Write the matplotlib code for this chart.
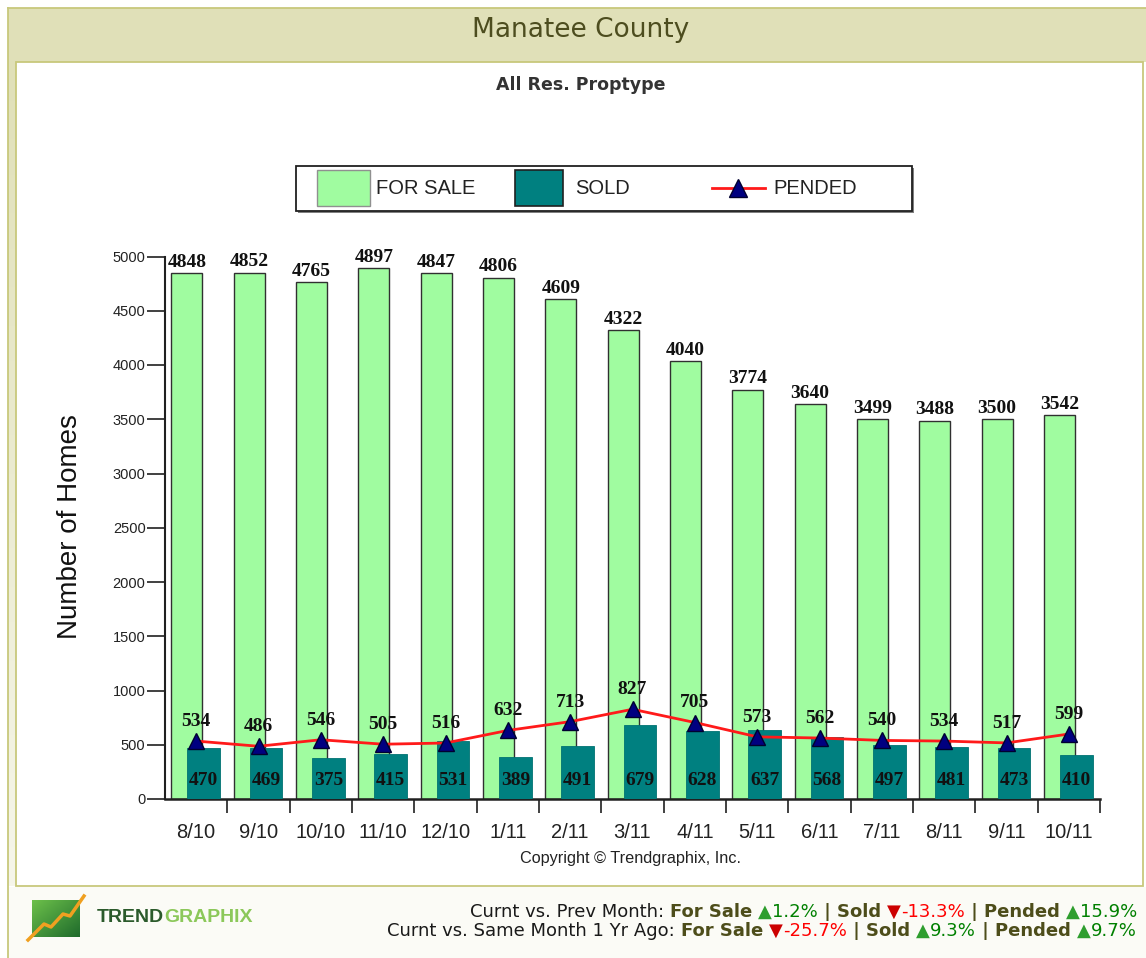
import matplotlib
matplotlib.use("Agg")
import matplotlib.pyplot as plt
import numpy as np
from matplotlib.patches import Rectangle
from matplotlib.lines import Line2D
from matplotlib.ticker import FixedLocator


months = ["8/10", "9/10", "10/10", "11/10", "12/10", "1/11", "2/11", "3/11",
          "4/11", "5/11", "6/11", "7/11", "8/11", "9/11", "10/11"]
for_sale = [4848, 4852, 4765, 4897, 4847, 4806, 4609, 4322, 4040, 3774, 3640, 3499, 3488, 3500, 3542]
sold = [470, 469, 375, 415, 531, 389, 491, 679, 628, 637, 568, 497, 481, 473, 410]
pended = [534, 486, 546, 505, 516, 632, 713, 827, 705, 573, 562, 540, 534, 517, 599]
y_ticks = [0, 500, 1000, 1500, 2000, 2500, 3000, 3500, 4000, 4500, 5000]

footer_prev = [("Curnt vs. Prev Month: ", "txt"), ("For Sale ", "key"), ("\u25b2", "up"), ("1.2%", "pos"),
               (" | ", "key"), ("Sold ", "key"), ("\u25bc", "down"), ("-13.3%", "neg"),
               (" | ", "key"), ("Pended ", "key"), ("\u25b2", "up"), ("15.9%", "pos")]
footer_year = [("Curnt vs. Same Month 1 Yr Ago: ", "txt"), ("For Sale ", "key"), ("\u25bc", "down"), ("-25.7%", "neg"),
               (" | ", "key"), ("Sold ", "key"), ("\u25b2", "up"), ("9.3%", "pos"),
               (" | ", "key"), ("Pended ", "key"), ("\u25b2", "up"), ("9.7%", "pos")]

GREEN = "#a0fca0"
TEAL = "#008080"
RED = "#ff1a1a"
NAVY = "#000080"
KHAKI = "#e0e0b8"
OLIVE_LINE = "#c8c87c"

W, H = 1146, 958
fig = plt.figure(figsize=(W / 100, H / 100), dpi=100)

# page furniture in pixel coordinates
bg = fig.add_axes([0, 0, 1, 1])
bg.set_xlim(0, W)
bg.set_ylim(H, 0)
bg.axis("off")

grad = np.linspace(0, 1, 256).reshape(-1, 1)
strip_cmap = matplotlib.colors.LinearSegmentedColormap.from_list("strip", [KHAKI, "#f6f6ea"])
bg.imshow(grad, extent=(8, 16, 886, 62), cmap=strip_cmap, aspect="auto", zorder=0)
bg.add_patch(Rectangle((8, 8), W, 54, fc=KHAKI, ec="none", zorder=0))
bg.add_patch(Rectangle((8, 887), W, 80, fc="#fbfbf6", ec="none", zorder=0))
bg.add_line(Line2D([7.5, 7.5], [7.5, H], color=OLIVE_LINE, lw=1.3))
bg.add_line(Line2D([7.5, W], [7.5, 7.5], color=OLIVE_LINE, lw=1.3))
bg.add_patch(Rectangle((16, 62), W - 19, 824, fc="white", ec=OLIVE_LINE, lw=1.3, zorder=1))

bg.text(581, 30, "Manatee County", ha="center", va="center", fontsize=19,
        family="DejaVu Sans", color="#4d4d1f")
bg.text(581, 85, "All Res. Proptype", ha="center", va="center", fontsize=12.5,
        family="DejaVu Sans", fontweight="bold", color="#333333")
bg.text(631, 858, "Copyright \u00a9 Trendgraphix, Inc.", ha="center", va="center",
        fontsize=11.7, family="Liberation Sans", color="#222222")

# legend box
bg.add_patch(Rectangle((298, 168), 616, 45, fc="#808080", ec="none", zorder=2))
bg.add_patch(Rectangle((296, 166), 616, 45, fc="white", ec="#202020", lw=1.3, zorder=3))
bg.add_patch(Rectangle((317, 170), 53, 36, fc=GREEN, ec="#909090", lw=1.0, zorder=4))
bg.add_patch(Rectangle((515, 170), 48, 36, fc=TEAL, ec="#202020", lw=1.2, zorder=4))
bg.add_line(Line2D([712, 765], [188, 188], color=RED, lw=2, zorder=4))
bg.add_line(Line2D([738], [188], ls="none", marker="^", ms=13, mfc=NAVY, mec="#000030", zorder=5))
for lx, lt in [(376, "FOR SALE"), (575, "SOLD"), (773, "PENDED")]:
    bg.text(lx, 188, lt, ha="left", va="center", fontsize=14.5, family="Liberation Sans",
            color="#222222", zorder=5)

# logo
logo_cmap = matplotlib.colors.LinearSegmentedColormap.from_list("logo", ["#6cc04a", "#1f6b2c"])
gx, gy = np.meshgrid(np.linspace(0, 1, 64), np.linspace(0, 1, 64))
bg.imshow(gx * 0.5 + gy * 0.5, extent=(32, 80, 937, 900), cmap=logo_cmap, aspect="auto", zorder=2)
bg.add_line(Line2D([28, 44, 51, 63, 70, 84], [940, 924, 927, 914, 916, 896],
                   color="#f0a020", lw=2.5, zorder=3))
t_trend = bg.text(97, 918, "TREND", ha="left", va="center", fontsize=14, fontweight="bold",
                  family="Liberation Sans", color="#2b5a2b")
fig.canvas.draw()
renderer = fig.canvas.get_renderer()
tw = t_trend.get_window_extent(renderer).width
bg.text(97 + tw, 918, "GRAPHIX", ha="left", va="center", fontsize=14, fontweight="bold",
        family="Liberation Sans", color="#8cc85a")

# footer comparison lines
styles = {
    "txt": dict(color="#1a1a1a", fontweight="normal"),
    "key": dict(color="#4d4d1a", fontweight="bold"),
    "up": dict(color="#2e9e2e", fontweight="normal"),
    "down": dict(color="#cc0000", fontweight="normal"),
    "pos": dict(color="#008000", fontweight="normal"),
    "neg": dict(color="#ff0000", fontweight="normal"),
}


def piece_width(s, kind, size):
    a = bg.text(0, 0, "x" + s + "x", fontsize=size, family="DejaVu Sans", **styles[kind])
    b = bg.text(0, 0, "xx", fontsize=size, family="DejaVu Sans", **styles[kind])
    w = a.get_window_extent(renderer).width - b.get_window_extent(renderer).width
    a.remove()
    b.remove()
    return w


def footer_line(pieces, y, right, size=13):
    widths = [piece_width(s, k, size) for s, k in pieces]
    x0 = right - sum(widths)
    for (s, k), w in zip(pieces, widths):
        bg.text(x0, y, s, ha="left", va="center", fontsize=size, family="DejaVu Sans", **styles[k])
        x0 += w


footer_line(footer_prev, 912, 1137)
footer_line(footer_year, 931, 1137)

# main chart
ax = fig.add_axes([165 / W, (H - 799) / H, 935 / W, 542.5 / H])
ax.patch.set_alpha(0)
x = np.arange(len(months))
ax.bar(x - 0.15, for_sale, 0.5, color=GREEN, edgecolor="#303030", lw=1.0, zorder=2)
ax.bar(x + 0.12, sold, 0.52, color=TEAL, edgecolor="#007272", lw=0.6, zorder=3)
ax.plot(x, pended, color=RED, lw=2, zorder=4)
ax.plot(x, pended, ls="none", marker="^", ms=12, mfc=NAVY, mec="#000030", zorder=5)

lab = dict(family="Liberation Serif", fontweight="bold", fontsize=14, color="#111111")
for xi, fs, sd, pd in zip(x, for_sale, sold, pended):
    ax.annotate(str(fs), (xi - 0.15, fs), xytext=(0, 1.5), textcoords="offset points",
                ha="center", va="bottom", annotation_clip=False, zorder=6, **lab)
    ax.text(xi + 0.12, 175, str(sd), ha="center", va="center", zorder=6, **lab)
    ax.annotate(str(pd), (xi, pd), xytext=(0, 8), textcoords="offset points",
                ha="center", va="bottom", annotation_clip=False, zorder=6, **lab)

ax.set_xlim(-0.5, len(months) - 0.5)
ax.set_ylim(0, 5000)
ax.set_yticks(y_ticks)
ax.set_xticks(x)
ax.set_xticklabels(months)
ax.xaxis.set_minor_locator(FixedLocator(x + 0.5))
ax.tick_params(axis="x", which="major", length=0, pad=17, labelsize=14.5, labelcolor="#222222")
ax.tick_params(axis="x", which="minor", length=10, width=1.2, direction="out", color="#202020")
ax.tick_params(axis="y", length=13, width=1.2, direction="out", pad=1, labelsize=10.5,
               labelcolor="#222222", color="#202020")
for lbl in ax.get_xticklabels() + ax.get_yticklabels():
    lbl.set_family("Liberation Sans")
for side in ("top", "right"):
    ax.spines[side].set_visible(False)
ax.spines["left"].set_linewidth(1.5)
ax.spines["bottom"].set_linewidth(1.8)
ax.spines["left"].set_color("#202020")
ax.spines["bottom"].set_color("#202020")

bg.text(70, 527, "Number of Homes", rotation=90, ha="center", va="center", fontsize=20,
        family="Liberation Sans", color="#111111")

fig.savefig("out.png", dpi=100)
